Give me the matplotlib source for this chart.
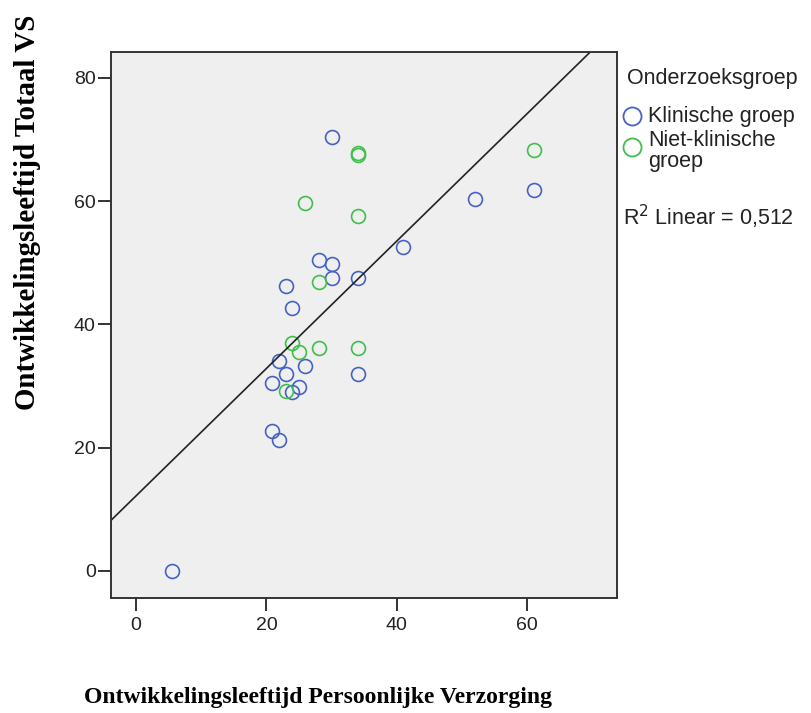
import numpy as np
import matplotlib
matplotlib.use("Agg")
import matplotlib.pyplot as plt
from matplotlib.lines import Line2D

# Data
klinisch_x = [30, 52, 61, 41, 28, 30, 30, 34, 23, 24, 21.9, 23, 26, 34, 20.9, 25, 24, 20.9, 21.9, 5.5]
klinisch_y = [70.4, 60.3, 61.8, 52.6, 50.4, 49.8, 47.6, 47.6, 46.2, 42.6, 34.0, 31.9, 33.3, 31.9, 30.5, 29.8, 29.1, 22.7, 21.2, 0.0]
niet_klinisch_x = [34, 34, 61, 26, 34, 28, 24, 25, 28, 34, 23]
niet_klinisch_y = [67.5, 67.8, 68.3, 59.7, 57.6, 46.9, 36.9, 35.5, 36.2, 36.2, 29.2]
x_ticks = [0, 20, 40, 60]
y_ticks = [0, 20, 40, 60, 80]
group_labels = ["Klinische groep", "Niet-klinische\ngroep"]
legend_title = "Onderzoeksgroep"
r2_text = "R$^2$ Linear = 0,512"
x_label = "Ontwikkelingsleeftijd Persoonlijke Verzorging"
y_label = "Ontwikkelingsleeftijd Totaal VS"

BLUE = "#4562c4"
GREEN = "#40bf4a"
BG = "#efefef"
TEXT = "#222222"

plt.rcParams["font.family"] = ["Liberation Sans", "DejaVu Sans"]

fig = plt.figure(figsize=(8.11, 7.13), dpi=100)
ax = fig.add_axes([0.1369, 0.1613, 0.6239, 0.7658])
ax.set_facecolor(BG)

ax.plot(klinisch_x, klinisch_y, "o", mfc="none", mec=BLUE, ms=10, mew=1.2, linestyle="none")
ax.plot(niet_klinisch_x, niet_klinisch_y, "o", mfc="none", mec=GREEN, ms=10, mew=1.2, linestyle="none")

# linear fit over all points
all_x = np.array(klinisch_x + niet_klinisch_x)
all_y = np.array(klinisch_y + niet_klinisch_y)
slope, intercept = np.polyfit(all_x, all_y, 1)
xlim = (-3.84, 73.8)
line_x = np.array(xlim)
ax.plot(line_x, slope * line_x + intercept, color="#222222", lw=1.2)

ax.set_xlim(xlim)
ax.set_ylim(-4.4, 84.2)
ax.set_xticks(x_ticks)
ax.set_yticks(y_ticks)
ax.tick_params(labelsize=14, length=9.5, width=1.4, color="#333333", labelcolor=TEXT)
ax.tick_params(axis="x", pad=4)
ax.tick_params(axis="y", pad=1.5)
for sp in ax.spines.values():
    sp.set_linewidth(1.4)
    sp.set_color("#333333")

# axis titles (placed like in the reference, not centred on the axes)
fig.text(0.392, 0.0224, x_label, family="Liberation Serif", fontweight="bold",
         fontsize=17, ha="center", va="center")
fig.text(0.0333, 0.7027, y_label, family="Liberation Serif", fontweight="bold",
         fontsize=20.8, ha="center", va="center", rotation=90)

# legend, built by hand
fig.text(0.7731, 0.8906, legend_title, fontsize=15.5, ha="left", va="center", color=TEXT)
for color, label, my, ty in [(BLUE, group_labels[0], 0.8373, 0.8373),
                             (GREEN, group_labels[1], 0.7938, 0.7882)]:
    fig.add_artist(Line2D([0.7795], [my], transform=fig.transFigure, marker="o", mfc="none",
                          mec=color, ms=13, mew=1.3, linestyle="none"))
    fig.text(0.799, ty, label, fontsize=15.5, ha="left", va="center", color=TEXT, linespacing=0.95)

fig.text(0.7682, 0.6957, r2_text, fontsize=15.5, va="center", ha="left", color=TEXT)

fig.savefig("out.png", dpi=100)
